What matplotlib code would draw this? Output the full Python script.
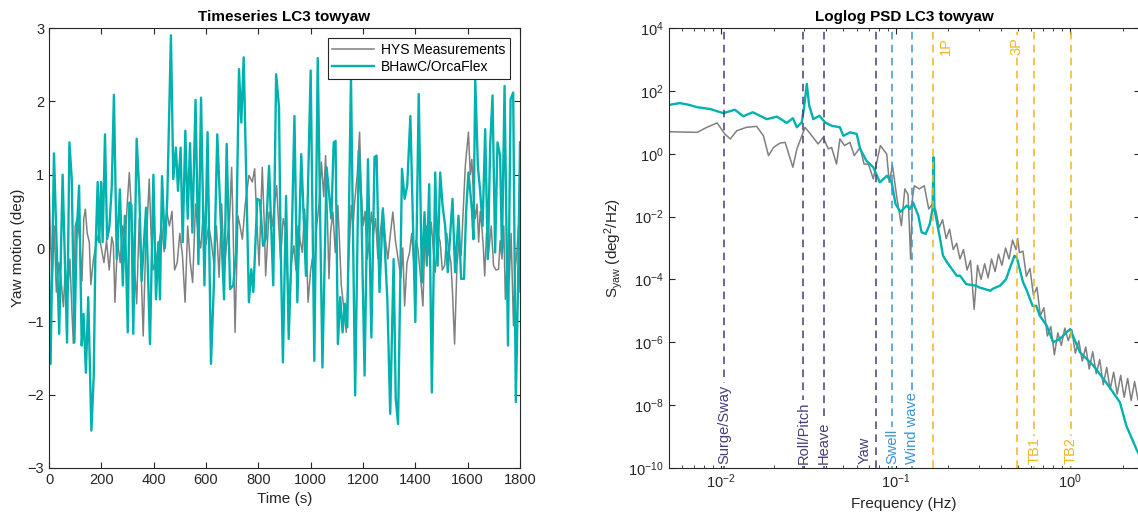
import numpy as np
import matplotlib
matplotlib.use('Agg')
import matplotlib.pyplot as plt

plt.rcParams['font.family'] = ['Liberation Sans', 'DejaVu Sans']
plt.rcParams['mathtext.fontset'] = 'custom'
plt.rcParams['mathtext.rm'] = 'Liberation Sans'
plt.rcParams['mathtext.it'] = 'Liberation Sans:italic'

GRAY = '#808080'
TEAL = '#00b2ae'
AXC = '#262626'

# ---- time series ----
t_sim = [0, 6, 19, 27, 39, 52, 69, 78, 87, 97, 106, 115, 125, 132, 141, 150, 162, 171, 177, 186,
         192, 199, 205, 214, 222, 231, 240, 248, 259, 271, 282, 290, 301, 307, 315, 322, 335, 345,
         354, 371, 386, 399, 409, 418, 424, 432, 443, 452, 466, 475, 485, 493, 503, 511, 521, 530,
         539, 548, 560, 571, 581, 594, 606, 619, 630, 643, 656, 669, 679, 692, 704, 715, 726, 735,
         744, 764, 773, 781, 796, 806, 818, 828, 841, 857, 868, 879, 885, 894, 906, 916, 926, 938,
         949, 964, 982, 1000, 1014, 1027, 1045, 1061, 1079, 1088, 1095, 1104, 1113, 1122, 1131,
         1140, 1154, 1170, 1184, 1193, 1206, 1219, 1232, 1244, 1252, 1263, 1276, 1293, 1304, 1317,
         1325, 1334, 1349, 1359, 1369, 1381, 1391, 1400, 1413, 1425, 1435, 1444, 1453, 1463, 1476,
         1485, 1495, 1504, 1514, 1524, 1542, 1552, 1565, 1575, 1586, 1594, 1603, 1616, 1622, 1629,
         1639, 1648, 1657, 1667, 1677, 1686, 1695, 1705, 1714, 1724, 1731, 1741, 1754, 1764, 1774,
         1784, 1792, 1800]
yaw_sim = [-0.29, -1.58, 1.29, 0.30, -1.17, 1.00, -1.29, 1.44, 0.94, -1.29, 0.21, 0.85, -1.33, -0.90,
           -1.70, -0.67, -2.49, -1.74, -0.15, 0.90, 0.08, 0.90, 0.08, 1.55, 0.12, 0.30, 0.85, 2.09,
           -0.15, 0.80, -0.51, 0.44, -1.15, 0.62, 0.58, -1.17, 1.49, 0.76, -0.45, 0.55, -1.31, 1.00,
           -0.70, 0.08, -0.70, 0.98, 0.00, 0.67, 2.90, 0.94, 1.37, 0.78, 1.37, 0.08, 1.60, 0.40,
           1.43, 0.21, 2.02, -0.22, 2.05, -0.51, 1.58, -1.58, -0.51, 1.55, 0.40, -0.70, 1.42, -0.56,
           -0.51, -0.06, 2.44, 1.71, 2.60, -0.74, -0.29, -0.60, 0.67, 0.65, 0.03, 0.12, 1.12, -0.51,
           2.37, 1.92, 0.08, -1.56, 0.71, -1.24, -0.15, 1.80, -0.74, 1.28, -0.38, 2.42, -1.54, 2.59,
           -1.63, 1.10, 0.40, 1.44, 1.46, -1.31, -0.67, -1.15, -0.76, -1.08, 2.33, -2.01, 1.33, 0.67,
           -1.74, 1.21, -1.22, 1.24, 1.26, -0.60, 0.53, -0.70, -2.26, -0.15, -2.05, -2.40, 1.08,
           0.67, 0.85, 1.80, 0.35, -1.01, 2.10, -0.47, 0.49, -0.24, 0.87, -1.97, 1.03, -0.24, 1.03,
           0.58, 0.30, -0.33, 0.67, -0.33, 0.44, -0.42, -0.42, 0.49, 1.03, 0.53, 0.12, 2.30, 1.12,
           0.76, 0.30, 1.62, -0.15, 1.40, 2.08, -0.06, 1.44, 1.26, -0.06, 2.21, -1.33, 2.03, 2.12,
           -2.10, -0.60, 1.44]

t_meas = [0, 5, 12, 20, 28, 38, 45, 55, 62, 72, 80, 88, 93, 100, 108, 118, 126, 133, 139, 146, 154,
          160, 170, 180, 190, 200, 210, 220, 230, 240, 246, 252, 262, 272, 282, 292, 299, 307, 315,
          323, 335, 345, 352, 360, 370, 376, 383, 390, 398, 410, 420, 430, 440, 450, 460, 470, 480,
          490, 500, 510, 520, 530, 540, 549, 560, 570, 580, 590, 600, 610, 620, 630, 640, 650, 660,
          670, 680, 690, 698, 704, 711, 722, 730, 739, 750, 764, 777, 786, 795, 803, 815, 822, 828,
          841, 853, 862, 870, 878, 885, 895, 904, 910, 917, 926, 936, 944, 952, 960, 968, 977, 984,
          990, 1000, 1006, 1015, 1023, 1032, 1041, 1050, 1057, 1064, 1070, 1076, 1085, 1094, 1104,
          1110, 1117, 1126, 1136, 1145, 1155, 1162, 1168, 1178, 1187, 1193, 1200, 1208, 1216, 1224,
          1232, 1240, 1248, 1257, 1266, 1276, 1286, 1295, 1305, 1314, 1324, 1334, 1345, 1352, 1359,
          1368, 1378, 1386, 1395, 1402, 1410, 1420, 1429, 1436, 1444, 1452, 1461, 1468, 1476, 1486,
          1495, 1503, 1512, 1520, 1529, 1536, 1542, 1550, 1559, 1567, 1575, 1583, 1591, 1603, 1610,
          1616, 1622, 1629, 1636, 1642, 1648, 1654, 1660, 1665, 1672, 1680, 1690, 1699, 1708, 1718,
          1724, 1731, 1738, 1744, 1752, 1759, 1766, 1775, 1781, 1788, 1794, 1800]
yaw_meas = [0.90, 0.20, -0.50, 0.30, -0.60, -0.20, -0.40, -0.80, -0.30, -0.60, -0.15, -0.90, -1.30,
            0.30, 0.40, 0.10, -0.45, 0.40, 0.53, 0.20, 0.08, -0.50, -0.15, 0.05, 0.20, 0.00, -0.20,
            0.10, -0.30, 0.15, 0.05, -0.74, 0.10, -0.20, 0.30, 0.10, 0.60, 1.03, 0.50, 0.00, -0.76,
            0.40, -0.30, -1.20, 0.10, 0.40, 0.94, 0.20, -0.30, -0.15, 0.05, 0.30, -0.05, 0.50, 0.30,
            0.50, -0.30, -0.20, 0.20, -0.10, -0.74, 0.30, -0.20, -0.47, 0.60, 0.20, 0.00, 0.50, 0.05,
            0.30, 0.10, -0.20, 0.30, -0.40, 0.60, -0.30, 0.10, 0.40, 1.10, 0.20, -1.15, 0.44, 0.30,
            0.12, 0.60, 0.99, 0.90, 1.08, 0.30, -0.24, 1.10, 0.40, -0.38, 0.49, 0.30, 0.60, 0.85,
            0.30, -0.15, 0.40, 0.26, -0.30, -0.88, -0.20, 0.03, -0.30, 0.30, 0.10, -0.06, 0.53, 0.00,
            -0.74, -0.30, -0.15, -0.45, 0.30, 0.60, 1.17, 0.70, 1.26, 0.40, -0.42, 0.21, 0.49, -0.06,
            0.58, 0.10, -0.51, -0.80, -1.15, -0.20, 0.58, 0.30, 0.62, 1.00, 1.58, 0.80, 0.30, 0.50,
            -0.15, 0.10, 0.49, 0.20, 0.40, -0.15, 0.20, 0.55, 0.10, -0.15, 0.20, 0.49, 0.10, -0.15,
            -0.40, 0.00, -0.79, -0.20, -0.06, 0.20, -0.24, 0.10, -0.01, -0.40, -0.79, 0.08, 0.30,
            -0.10, 0.35, 0.00, -0.33, 0.20, 0.08, -0.30, -0.24, 0.20, -0.06, -0.20, -0.60, -1.31,
            -0.24, 0.10, -0.10, 0.50, 1.12, 1.58, 1.00, 1.21, 0.70, 0.40, 0.60, 0.08, 0.50, 0.30,
            0.00, -0.38, 0.20, -0.06, 0.30, -0.24, -0.30, -0.29, 0.10, -0.15, 0.30, -0.70, -0.10,
            -0.42, 0.20, -1.06, -0.30, -0.06, 0.30, -0.60]

# ---- PSD, log10 of S_yaw ----
f_sim = [0.0050, 0.0058, 0.0065, 0.0073, 0.0087, 0.0103, 0.0120, 0.0134, 0.0152, 0.0183, 0.0209,
         0.0238, 0.0258, 0.0272, 0.0290, 0.0300, 0.0310, 0.0320, 0.0338, 0.0366, 0.0394, 0.0430,
         0.0480, 0.0502, 0.0548, 0.0599, 0.0627, 0.0680, 0.0745, 0.0813, 0.0893, 0.0950, 0.1000,
         0.1066, 0.1160, 0.1210, 0.1260, 0.1350, 0.1410, 0.1490, 0.1570, 0.1630, 0.1650, 0.1670,
         0.1800, 0.1870, 0.1970, 0.2240, 0.2340, 0.2540, 0.2900, 0.3000, 0.3500, 0.3600, 0.3970,
         0.4300, 0.4500, 0.4800, 0.4950, 0.5370, 0.5600, 0.6100, 0.6400, 0.6700, 0.7350, 0.8000,
         0.8700, 1.0000, 1.1400, 1.3600, 1.6600, 1.9300, 2.1000, 2.4000, 2.5000]
psd_sim = [1.55, 1.61, 1.56, 1.48, 1.42, 1.29, 1.40, 1.19, 1.32, 1.10, 1.18, 0.98, 1.13, 0.84, 1.00,
           1.53, 2.22, 1.53, 1.10, 1.21, 1.00, 0.89, 0.84, 0.57, 0.68, 0.63, 0.15, -0.22, -0.43,
           -0.91, -0.70, -0.91, -1.60, -1.85, -1.65, -1.76, -1.55, -1.97, -2.50, -2.55, -2.24,
           -1.76, -0.11, -1.76, -2.71, -3.24, -3.45, -3.88, -3.88, -4.15, -4.20, -4.25, -4.36,
           -4.30, -4.20, -3.99, -3.67, -3.25, -3.30, -4.08, -4.30, -4.84, -4.84, -5.15, -5.47,
           -6.00, -5.90, -5.58, -6.32, -6.74, -7.38, -7.91, -8.65, -9.40, -9.60]

f_meas = [0.0050, 0.0073, 0.0083, 0.0095, 0.0105, 0.0113, 0.0123, 0.0140, 0.0160, 0.0175, 0.0187,
          0.0200, 0.0218, 0.0233, 0.0258, 0.0272, 0.0303, 0.0320, 0.0360, 0.0385, 0.0412, 0.0430,
          0.0459, 0.0480, 0.0510, 0.0548, 0.0580, 0.0627, 0.0660, 0.0700, 0.0745, 0.0818, 0.0890,
          0.0920, 0.0960, 0.1020, 0.1080, 0.1130, 0.1180, 0.1220, 0.1250, 0.1280, 0.1370, 0.1460,
          0.1550, 0.1630,
          0.170, 0.178, 0.186, 0.195, 0.204, 0.214, 0.224, 0.234, 0.245, 0.257, 0.269, 0.282,
          0.295, 0.309, 0.324, 0.339, 0.355, 0.372, 0.389, 0.407, 0.427, 0.447, 0.468, 0.490,
          0.501, 0.513, 0.537, 0.562, 0.589, 0.617, 0.646, 0.676, 0.708, 0.741, 0.776, 0.813,
          0.851, 0.891, 0.933, 0.977, 1.023, 1.072, 1.122, 1.175, 1.230, 1.288, 1.349, 1.413,
          1.479, 1.549, 1.622, 1.698, 1.778, 1.862, 1.950, 2.042, 2.138, 2.239, 2.344, 2.455, 2.512]
psd_meas = [0.70, 0.68, 0.84, 0.98, 0.63, 0.47, 0.73, 0.84, 0.87, 0.57, -0.06, 0.20, 0.34, 0.36,
            -0.43, 0.15, 0.84, 0.68, 0.31, 0.52, 0.15, 0.20, -0.33, 0.47, 0.26, 0.36, -0.06, 0.20,
            -0.33, -0.33, -0.80, 0.26, -0.01, -0.91, -0.38, -1.44, -2.29, -1.12, -1.30, -3.35,
            -1.40, -1.02, -1.12, -1.02, -1.76, -1.60,
            -1.80, -2.35, -2.10, -2.70, -2.40, -3.05, -2.85, -3.35, -3.05, -3.70, -3.40, -4.95,
            -3.55, -4.00, -3.50, -3.95, -3.35, -3.75, -3.20, -3.55, -3.00, -3.35, -2.75, -3.05,
            -2.70, -3.15, -3.10, -3.90, -3.65, -4.50, -4.25, -5.15, -4.90, -5.80, -5.50, -6.40,
            -5.70, -6.10, -5.55, -5.95, -5.60, -6.35, -5.95, -6.60, -6.15, -6.85, -6.30, -7.00,
            -6.55, -7.35, -6.80, -7.50, -6.95, -7.65, -7.05, -7.75, -7.15, -7.85, -7.25, -7.85, -7.40]

# ---- natural-frequency markers ----
mark_names = ['Surge/Sway', 'Roll/Pitch', 'Heave', 'Yaw', 'Swell', 'Wind wave', '1P', '3P', 'TB1', 'TB2']
mark_freqs = [0.0104, 0.0296, 0.0388, 0.0770, 0.0955, 0.125, 0.165, 0.495, 0.624, 1.01]
mark_groups = ['hull', 'hull', 'hull', 'hull', 'wave', 'wave', 'rotor', 'rotor', 'tower', 'tower']
group_color = {'hull': '#4a3b78', 'wave': '#3d93d6', 'rotor': '#efb521', 'tower': '#efb521'}


def style_axes(ax):
    for s in ax.spines.values():
        s.set_color(AXC)
        s.set_linewidth(0.8)
    ax.tick_params(which='both', direction='in', top=True, right=True, colors=AXC,
                   labelsize=10.5, labelcolor=AXC)
    ax.tick_params(which='major', length=4.5)
    ax.tick_params(which='minor', length=2.5)


fig = plt.figure(figsize=(11.38, 5.24), dpi=100)
ax1 = fig.add_axes([49 / 1138, 56 / 524, 471 / 1138, 440 / 524])
ax2 = fig.add_axes([668.5 / 1138, 56 / 524, 471 / 1138, 440 / 524])

# left: time series
ax1.plot(t_meas, yaw_meas, color=GRAY, lw=1.1, label='HYS Measurements')
ax1.plot(t_sim, yaw_sim, color=TEAL, lw=1.7, label='BHawC/OrcaFlex')
ax1.set_xlim(0, 1800)
ax1.set_ylim(-3, 3)
ax1.set_xticks(np.arange(0, 1801, 200))
ax1.set_yticks(np.arange(-3, 4, 1))
style_axes(ax1)
ax1.set_xlabel('Time (s)', fontsize=11, color=AXC)
ax1.set_ylabel('Yaw motion (deg)', fontsize=11, color=AXC, labelpad=2)
ax1.set_title('Timeseries LC3 towyaw', fontsize=11, fontweight='bold', pad=5)
leg = ax1.legend(loc='upper right', fontsize=10, fancybox=False, framealpha=1,
                 edgecolor=AXC, handlelength=3.0, borderaxespad=0.7, borderpad=0.35,
                 labelspacing=0.25, handletextpad=0.5)
leg.get_frame().set_linewidth(0.8)

# right: PSD
ax2.loglog(f_meas, 10.0 ** np.array(psd_meas), color=GRAY, lw=1.1)
ax2.loglog(f_sim, 10.0 ** np.array(psd_sim), color=TEAL, lw=1.7)
ax2.set_xlim(0.005, 2.5)
ax2.set_ylim(1e-10, 1e4)
ax2.set_yticks([1e4, 1e2, 1e0, 1e-2, 1e-4, 1e-6, 1e-8, 1e-10])
ax2.set_xticks([1e-2, 1e-1, 1e0])
style_axes(ax2)
ax2.set_xlabel('Frequency (Hz)', fontsize=11, color=AXC)
ax2.set_ylabel(r'S$_{\rm yaw}$ (deg$^2$/Hz)', fontsize=11, color=AXC, labelpad=2)
ax2.set_title('Loglog PSD LC3 towyaw', fontsize=11, fontweight='bold', pad=5)

for name, fr, grp in zip(mark_names, mark_freqs, mark_groups):
    c = group_color[grp]
    ax2.axvline(fr, color=c, lw=1.1, ls=(0, (5, 3.5)), zorder=5)
    box = dict(facecolor='white', edgecolor='none', pad=1.5)
    if name in ('1P', '3P'):
        if name == '1P':
            ax2.annotate(name, (fr, 10 ** 3.71), xytext=(4, 0), textcoords='offset points',
                         rotation=90, ha='left', va='top', fontsize=10.5, color=c, zorder=6)
        else:
            ax2.text(fr, 10 ** 3.71, name, rotation=90, ha='center', va='top', fontsize=10.5,
                     color=c, bbox=box, zorder=6)
    elif name == 'Yaw':
        ax2.annotate(name, (fr, 1.3e-10), xytext=(-3, 0), textcoords='offset points',
                     rotation=90, ha='right', va='bottom', fontsize=10.5, color=c, zorder=6)
    else:
        ax2.text(fr, 1.3e-10, name, rotation=90, ha='center', va='bottom', fontsize=10.5,
                 color=c, bbox=box, zorder=6)

fig.savefig('out.png', dpi=100)
plt.close(fig)
